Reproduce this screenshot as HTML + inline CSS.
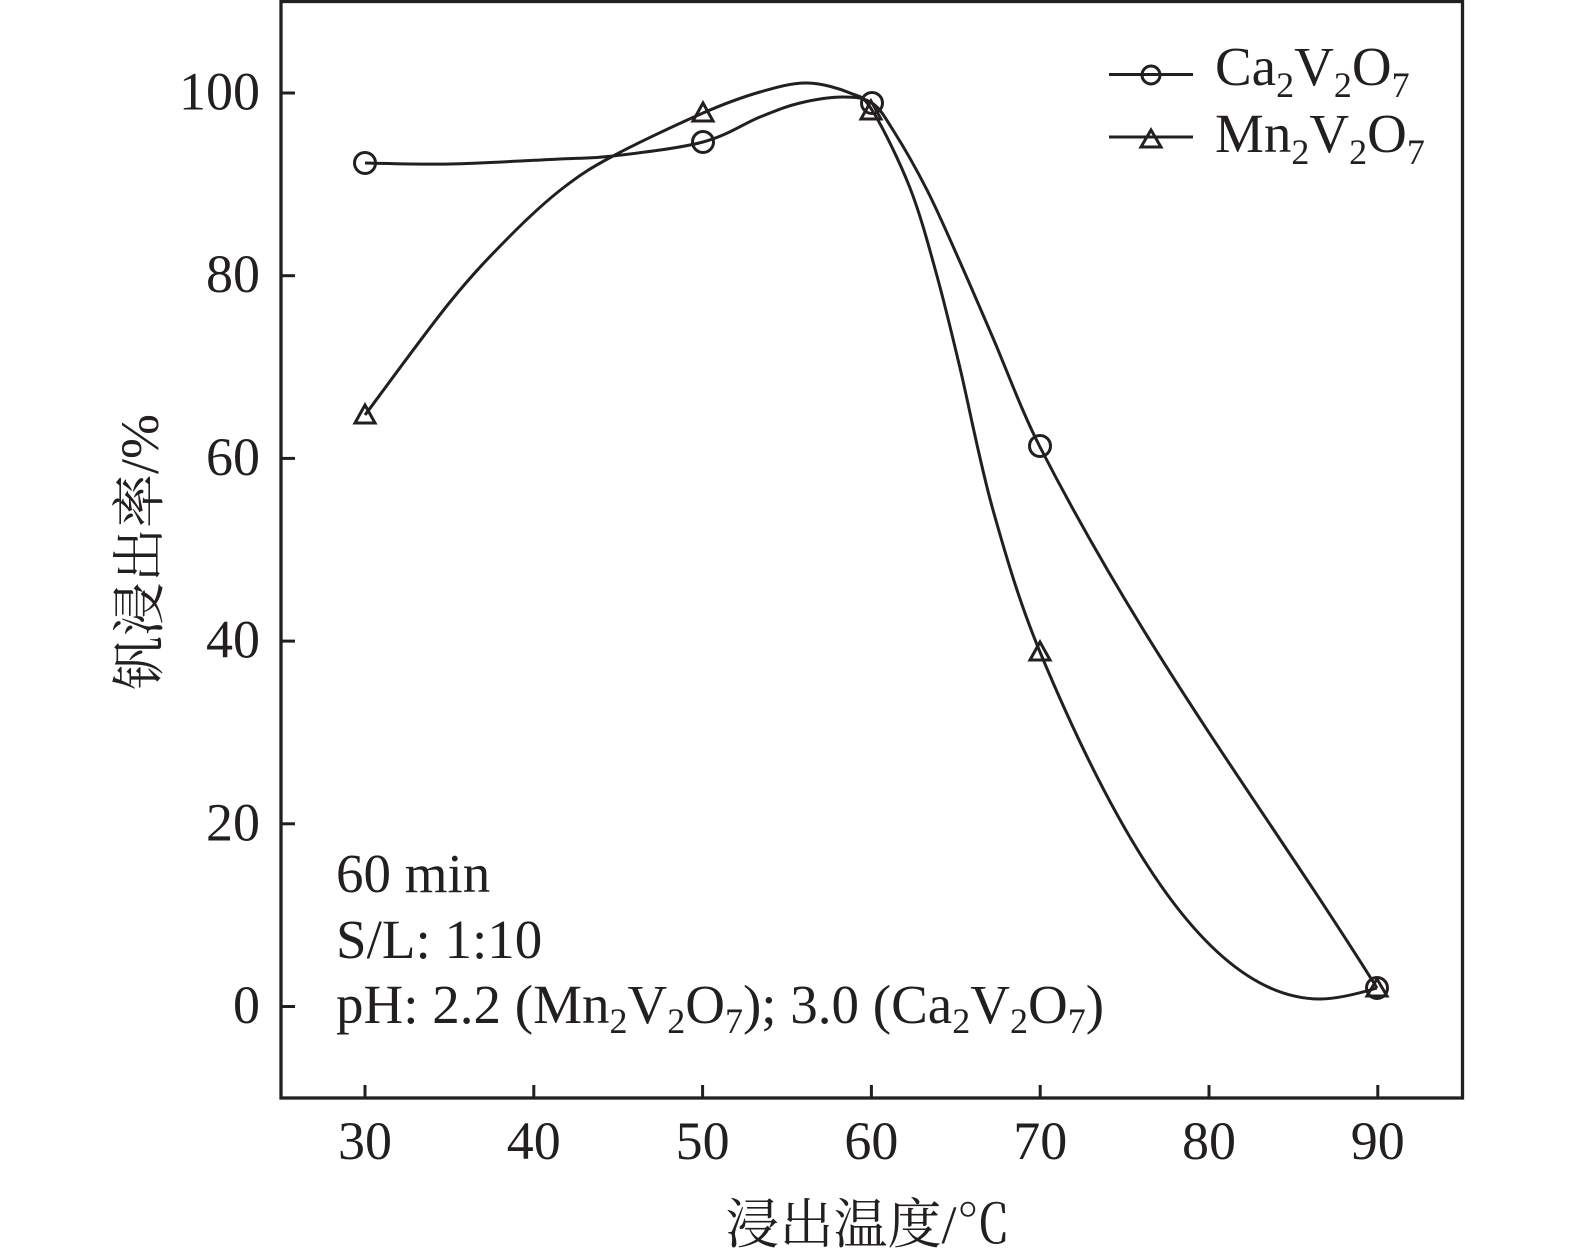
<!DOCTYPE html>
<html>
<head>
<meta charset="utf-8">
<style>
  html,body{margin:0;padding:0;background:#fff;}
  svg{display:block;}
  text{font-family:"Liberation Serif","Noto Serif CJK SC",serif;fill:#231f20;}
</style>
</head>
<body>
<svg width="1575" height="1260" viewBox="0 0 1575 1260" xmlns="http://www.w3.org/2000/svg">
  <rect x="0" y="0" width="1575" height="1260" fill="#fff"/>
  <!-- frame -->
  <rect x="281" y="1.5" width="1181.5" height="1096.5" fill="none" stroke="#231f20" stroke-width="3.3"/>
  <!-- y ticks -->
  <g stroke="#231f20" stroke-width="3">
    <line x1="281" y1="1006.5" x2="295" y2="1006.5"/>
    <line x1="281" y1="823.8" x2="295" y2="823.8"/>
    <line x1="281" y1="641.1" x2="295" y2="641.1"/>
    <line x1="281" y1="458.4" x2="295" y2="458.4"/>
    <line x1="281" y1="275.7" x2="295" y2="275.7"/>
    <line x1="281" y1="93" x2="295" y2="93"/>
  </g>
  <!-- x ticks -->
  <g stroke="#231f20" stroke-width="3">
    <line x1="365" y1="1098" x2="365" y2="1085"/>
    <line x1="533.8" y1="1098" x2="533.8" y2="1085"/>
    <line x1="702.6" y1="1098" x2="702.6" y2="1085"/>
    <line x1="871.4" y1="1098" x2="871.4" y2="1085"/>
    <line x1="1040.2" y1="1098" x2="1040.2" y2="1085"/>
    <line x1="1209" y1="1098" x2="1209" y2="1085"/>
    <line x1="1377.8" y1="1098" x2="1377.8" y2="1085"/>
  </g>
  <!-- y tick labels -->
  <g font-size="54" text-anchor="end">
    <text x="260" y="1023">0</text>
    <text x="260" y="840.3">20</text>
    <text x="260" y="657.6">40</text>
    <text x="260" y="474.9">60</text>
    <text x="260" y="292.2">80</text>
    <text x="260" y="109.5">100</text>
  </g>
  <!-- x tick labels -->
  <g font-size="54" text-anchor="middle">
    <text x="365" y="1159">30</text>
    <text x="533.8" y="1159">40</text>
    <text x="702.6" y="1159">50</text>
    <text x="871.4" y="1159">60</text>
    <text x="1040.2" y="1159">70</text>
    <text x="1209" y="1159">80</text>
    <text x="1377.8" y="1159">90</text>
  </g>
  <!-- axis titles -->
  <text x="868" y="1243" font-size="54" text-anchor="middle">浸出温度/<tspan font-family="Noto Serif CJK SC, serif">℃</tspan></text>
  <text transform="translate(158,552) rotate(-90)" font-size="54" text-anchor="middle">钒浸出率/%</text>

  <!-- Ca2V2O7 curve -->
  <path fill="none" stroke="#231f20" stroke-width="3" d="
    M365,163
    C379.2,163.2 417.5,164.7 450,164
    C482.5,163.3 532.8,160.3 560,159
    C587.2,157.7 589.2,158.8 613,156
    C636.8,153.2 678.5,148.5 703,142
    C727.5,135.5 743.8,123.5 760,117
    C776.2,110.5 786.2,106.3 800,103
    C813.8,99.7 831,97 843,97
    C855,97 863.7,97.5 872,103
    C880.3,108.5 883.8,115.5 893,130
    C902.2,144.5 915.8,168 927,190
    C938.2,212 949,237.3 960,262
    C971,286.7 979.7,307.2 993,338
    C1006.3,368.8 1022,412 1040,447
    C1150,661.5 1267,812 1377,988"/>

  <!-- Mn2V2O7 curve -->
  <path fill="none" stroke="#231f20" stroke-width="3" d="
    M365,415
    C379.2,396.2 425.8,331.8 450,302
    C474.2,272.2 491.2,255 510,236
    C528.8,217 545.8,201.3 563,188
    C580.2,174.7 589.7,168.5 613,156
    C636.3,143.5 678.5,123.7 703,113
    C727.5,102.3 742.7,97 760,92
    C777.3,87 792,82.8 807,83
    C822,83.2 839.2,88.5 850,93
    C860.8,97.5 862,94.2 872,110
    C882,125.8 899.2,160.3 910,188
    C920.8,215.7 928.7,246 937,276
    C945.3,306 950.7,329 960,368
    C969.3,407 979.7,462.7 993,510
    C1006.3,557.3 1020,604 1040,652
    C1130,868 1220,999 1320,999
    C1340,999 1367,991 1377,988"/>

  <!-- circle markers -->
  <g fill="none" stroke="#231f20" stroke-width="3">
    <circle cx="365" cy="163" r="10.5"/>
    <circle cx="703" cy="142" r="10.5"/>
    <circle cx="872" cy="103" r="10.5"/>
    <circle cx="1040" cy="446" r="10.5"/>
    <circle cx="1377" cy="988" r="10.5"/>
  </g>
  <!-- triangle markers -->
  <g fill="none" stroke="#231f20" stroke-width="3" stroke-linejoin="miter">
    <polygon points="365,405 375,423 355,423"/>
    <polygon points="703,103 713,121 693,121"/>
    <polygon points="871,101 881,119 861,119"/>
    <polygon points="1040,642 1050,660 1030,660"/>
    <polygon points="1377,979 1387,996 1367,996"/>
  </g>

  <!-- legend -->
  <g stroke="#231f20" stroke-width="3" fill="none">
    <line x1="1109" y1="74.5" x2="1193" y2="74.5"/>
    <circle cx="1151" cy="75" r="9"/>
    <line x1="1109" y1="137" x2="1193" y2="137"/>
    <polygon points="1151,130 1161,147 1141,147"/>
  </g>
  <text x="1215" y="85" font-size="55">Ca<tspan font-size="36" dy="12">2</tspan><tspan dy="-12">V</tspan><tspan font-size="36" dy="12">2</tspan><tspan dy="-12">O</tspan><tspan font-size="36" dy="12">7</tspan></text>
  <text x="1215" y="152" font-size="55">Mn<tspan font-size="36" dy="12">2</tspan><tspan dy="-12">V</tspan><tspan font-size="36" dy="12">2</tspan><tspan dy="-12">O</tspan><tspan font-size="36" dy="12">7</tspan></text>

  <!-- annotations -->
  <text x="336" y="892" font-size="55">60 min</text>
  <text x="336" y="958" font-size="55">S/L: 1:10</text>
  <text x="336" y="1023" font-size="55">pH: 2.2 (Mn<tspan font-size="36" dy="10">2</tspan><tspan dy="-10">V</tspan><tspan font-size="36" dy="10">2</tspan><tspan dy="-10">O</tspan><tspan font-size="36" dy="10">7</tspan><tspan dy="-10">); 3.0 (Ca</tspan><tspan font-size="36" dy="10">2</tspan><tspan dy="-10">V</tspan><tspan font-size="36" dy="10">2</tspan><tspan dy="-10">O</tspan><tspan font-size="36" dy="10">7</tspan><tspan dy="-10">)</tspan></text>
</svg>
</body>
</html>
